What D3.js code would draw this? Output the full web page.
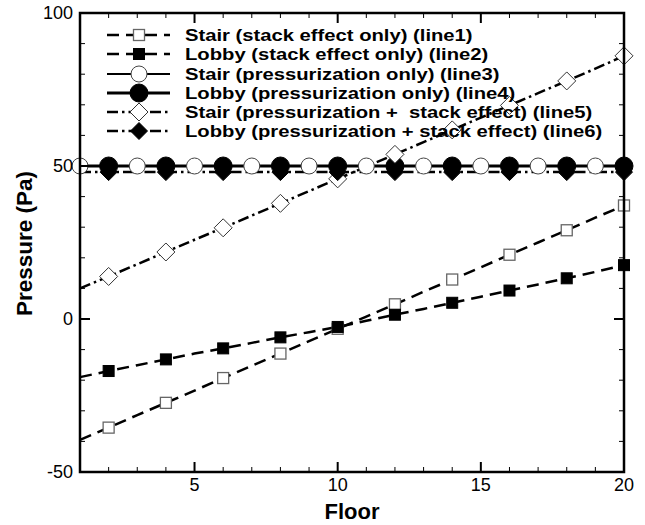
<!DOCTYPE html>
<html><head><meta charset="utf-8">
<script src="https://cdn.jsdelivr.net/npm/d3@7"></script>
<style>body{margin:0;background:#fff}svg{display:block}text{white-space:pre}</style>
</head><body>
<svg id="c" width="645" height="525"></svg>
<script>
const floors = [1,2,3,4,5,6,7,8,9,10,11,12,13,14,15,16,17,18,19,20];
const line1 = [-39.5,-35.5,-31.4,-27.4,-23.4,-19.3,-15.3,-11.3,-7.2,-3.2,0.8,4.8,8.9,12.9,16.9,21.0,25.0,29.0,33.1,37.1];
const line2 = [-19.0,-17.0,-15.1,-13.2,-11.3,-9.6,-7.8,-6.0,-4.3,-2.6,-0.6,1.4,3.3,5.3,7.3,9.3,11.3,13.3,15.4,17.6];
const line3 = [50,50,50,50,50,50,50,50,50,50,50,50,50,50,50,50,50,50,50,50];
const line4 = [50,50,50,50,50,50,50,50,50,50,50,50,50,50,50,50,50,50,50,50];
const line5 = [10.0,13.9,17.9,21.9,25.9,29.8,33.8,37.8,41.8,45.8,49.8,53.8,57.8,61.8,65.8,69.8,73.8,77.8,81.8,86.0];
const line6 = [48,48,48,48,48,48,48,48,48,48,48,48,48,48,48,48,48,48,48,48];
const legendLabels = [
  "Stair (stack effect only) (line1)",
  "Lobby (stack effect only) (line2)",
  "Stair (pressurization only) (line3)",
  "Lobby (pressurization only) (line4)",
  "Stair (pressurization +  stack effect) (line5)",
  "Lobby (pressurization + stack effect) (line6)"
];
const xTicks = [5,10,15,20];
const yTicks = [-50,0,50,100];

const svg = d3.select("#c");
const L=80,R=624,T=13,B=472;
const x = d3.scaleLinear().domain([1,20]).range([L,R]);
const y = d3.scaleLinear().domain([-50,100]).range([B,T]);

const series = [
  {vals:line1, dash:"12,7", w:2.5, marker:"square", fill:"#fff", stroke:"#666", size:11, sw:1.3, every:"even"},
  {vals:line2, dash:"12,7", w:2.5, marker:"square", fill:"#000", stroke:"#000", size:11, sw:1, every:"even"},
  {vals:line3, dash:null, w:2, marker:"circle", fill:"#fff", stroke:"#444", size:8, sw:1, every:"odd"},
  {vals:line4, dash:null, w:3, marker:"circle", fill:"#000", stroke:"#000", size:9, sw:1, every:"even"},
  {vals:line5, dash:"11,4,2.5,4", w:2.5, marker:"diamond", fill:"#fff", stroke:"#333", size:9, sw:1, every:"even"},
  {vals:line6, dash:"11,4,2.5,4", w:2.5, marker:"diamond", fill:"#000", stroke:"#000", size:8.5, sw:1, every:"even"}
];

function drawMarker(g, type, cx, cy, s){
  if(type==="square") return g.append("rect").attr("x",cx-s/2).attr("y",cy-s/2).attr("width",s).attr("height",s);
  if(type==="circle") return g.append("circle").attr("cx",cx).attr("cy",cy).attr("r",s);
  return g.append("path").attr("d",`M${cx},${cy-s}L${cx+s},${cy}L${cx},${cy+s}L${cx-s},${cy}Z`);
}

const line = d3.line().x((d,i)=>x(floors[i])).y(d=>y(d));
series.forEach(s=>{
  svg.append("path").attr("d",line(s.vals)).attr("fill","none")
    .attr("stroke","#000").attr("stroke-width",s.w)
    .attr("stroke-dasharray",s.dash);
});
series.forEach(s=>{
  const g = svg.append("g");
  s.vals.forEach((v,i)=>{
    const f=floors[i];
    if((s.every==="even" && f%2===0)||(s.every==="odd" && f%2===1)){
      drawMarker(g,s.marker,x(f),y(v),s.size).attr("fill",s.fill).attr("stroke",s.stroke).attr("stroke-width",s.sw);
    }
  });
});

const tk = svg.append("g").attr("stroke","#000");
d3.range(1,21).forEach(f=>{
  const major = xTicks.includes(f);
  const len = major?10:5, w = major?2:1;
  tk.append("line").attr("x1",x(f)).attr("x2",x(f)).attr("y1",B).attr("y2",B-len).attr("stroke-width",w);
  tk.append("line").attr("x1",x(f)).attr("x2",x(f)).attr("y1",T).attr("y2",T+len).attr("stroke-width",w);
});
d3.range(-50,101,10).forEach(v=>{
  const major = v%50===0;
  const len = major?10:5, w = major?2:1;
  tk.append("line").attr("x1",L).attr("x2",L+len).attr("y1",y(v)).attr("y2",y(v)).attr("stroke-width",w);
  tk.append("line").attr("x1",R).attr("x2",R-len).attr("y1",y(v)).attr("y2",y(v)).attr("stroke-width",w);
});
svg.append("rect").attr("x",L).attr("y",T).attr("width",R-L).attr("height",B-T)
  .attr("fill","none").attr("stroke","#000").attr("stroke-width",2.5);

const font = "Arial, 'Liberation Sans', sans-serif";
xTicks.forEach(t=>{
  svg.append("text").attr("x",x(t)).attr("y",B+19).attr("text-anchor","middle")
    .attr("font-family",font).attr("font-size",18).text(t);
});
yTicks.forEach(t=>{
  svg.append("text").attr("x",L-7).attr("y",y(t)+6).attr("text-anchor","end")
    .attr("font-family",font).attr("font-size",18).text(t);
});
svg.append("text").attr("x",(L+R)/2).attr("y",519).attr("text-anchor","middle")
  .attr("font-family",font).attr("font-weight","bold").attr("font-size",22).text("Floor");
svg.append("text").attr("transform",`translate(32,${(T+B)/2+1}) rotate(-90)`).attr("text-anchor","middle")
  .attr("font-family",font).attr("font-weight","bold").attr("font-size",22.5).text("Pressure (Pa)");

const lg = svg.append("g");
const rowY = [35,54,74,93,112,131];
series.forEach((s,i)=>{
  const yy = rowY[i];
  lg.append("line").attr("x1",107).attr("x2",170).attr("y1",yy).attr("y2",yy)
    .attr("stroke","#000").attr("stroke-width",s.w).attr("stroke-dasharray",s.dash);
  drawMarker(lg,s.marker,139,yy,s.size).attr("fill",s.fill).attr("stroke",s.stroke).attr("stroke-width",s.sw);
  lg.append("text").attr("transform",`translate(185,${yy+6}) scale(1.19,1)`)
    .attr("font-family",font).attr("font-weight","bold")
    .attr("font-size",17).text(legendLabels[i]);
});
</script>
</body></html>
